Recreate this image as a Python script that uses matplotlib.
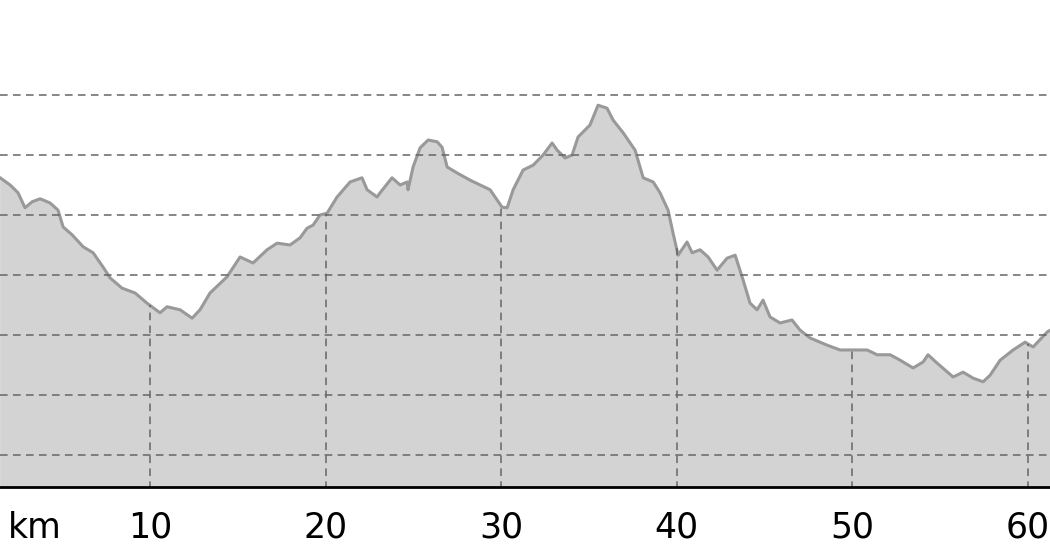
import numpy as np
import matplotlib
matplotlib.use('Agg')
import matplotlib.pyplot as plt

# distance along route (km) and elevation (m)
km = [1.46, 2.03, 2.48, 2.88, 3.28, 3.74, 4.31, 4.76, 5.05, 5.56, 6.19, 6.76, 7.33, 7.73,
      8.41, 9.15, 9.83, 10.57, 10.97, 11.71, 12.40, 12.85, 13.42, 14.39, 15.13, 15.87,
      16.67, 17.24, 17.98, 18.55, 18.95, 19.29, 19.69, 20.09, 20.66, 21.40, 22.08, 22.37,
      22.94, 23.11, 23.79, 24.25, 24.65, 24.70, 24.99, 25.39, 25.85, 26.36, 26.64, 26.93,
      27.50, 28.24, 28.81, 29.38, 30.06, 30.35, 30.69, 31.26, 31.83, 32.40, 32.91, 33.20,
      33.65, 34.05, 34.39, 35.07, 35.53, 36.04, 36.39, 36.96, 37.64, 38.10, 38.67, 39.06,
      39.52, 39.80, 40.09, 40.60, 40.89, 41.34, 41.80, 42.31, 42.88, 43.34, 43.79, 44.19,
      44.59, 44.93, 45.33, 45.90, 46.58, 47.04, 47.61, 48.58, 49.32, 50.06, 50.86, 51.43,
      52.17, 52.74, 53.48, 54.05, 54.33, 54.85, 55.76, 56.33, 56.90, 57.47, 57.87, 58.44,
      59.18, 59.86, 60.32, 61.12, 61.30]
elev = [562, 550, 537, 512, 522, 527, 520, 508, 480, 467, 447, 437, 413, 395,
        378, 370, 353, 337, 347, 342, 328, 342, 370, 397, 430, 420,
        442, 453, 450, 462, 478, 483, 500, 503, 530, 555, 562, 542,
        530, 537, 562, 550, 555, 542, 580, 612, 625, 622, 613, 580,
        570, 558, 550, 542, 513, 512, 542, 575, 583, 600, 620, 608,
        595, 600, 630, 650, 683, 678, 658, 637, 608, 562, 555, 537,
        508, 470, 433, 455, 437, 442, 430, 408, 428, 433, 392, 353,
        342, 358, 330, 320, 325, 308, 295, 283, 275, 275, 275, 267,
        267, 258, 245, 255, 267, 253, 230, 238, 228, 222, 233, 258,
        275, 288, 280, 305, 308]

x_ticks = [10, 20, 30, 40, 50, 60]
y_grid = [100, 200, 300, 400, 500, 600, 700]

fig = plt.figure(figsize=(10.5, 5.6), dpi=100)
ax = fig.add_axes([0, 73 / 560, 1, 452 / 560])

ax.fill_between(km, 0, elev, color='#d3d3d3', lw=0, zorder=1)
ax.plot(km, elev, color='#999999', lw=2.2, zorder=2)

dash = (0, (5, 3.5))
for y in y_grid:
    ax.axhline(y, color='#666666', lw=1.1, linestyle=dash, zorder=3)
# vertical grid only runs up to the profile
tops = np.interp(x_ticks, km, elev)
ax.vlines(x_ticks, 0, tops, color='#666666', lw=1.1, linestyles=[dash], zorder=3)

ax.set_xlim(1.453, 61.28)
ax.set_ylim(46.6, 800)
ax.set_xticks(x_ticks)
ax.set_xticklabels([str(t) for t in x_ticks], fontsize=25)
ax.set_yticks([])
ax.tick_params(axis='x', length=0, pad=17)

for s in ['top', 'left', 'right']:
    ax.spines[s].set_visible(False)
ax.spines['bottom'].set_linewidth(2)
ax.spines['bottom'].set_color('black')
ax.spines['bottom'].set_zorder(4)

fig.text(35 / 1050, 1 - 528 / 560, 'km', fontsize=25, ha='center', va='center')

fig.savefig('out.png', dpi=100)
